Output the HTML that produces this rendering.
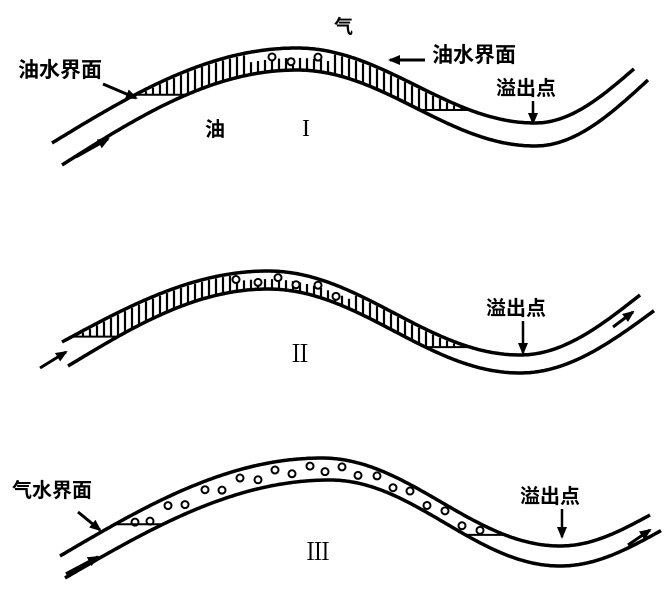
<!DOCTYPE html>
<html><head><meta charset="utf-8"><style>
body{margin:0;background:#fff;}
svg{display:block;}
text{font-family:"Liberation Sans","Noto Sans CJK SC",sans-serif;fill:#000;font-weight:bold;}
.r{font-family:"Liberation Serif","Noto Serif CJK SC",serif;font-weight:normal;}
</style></head><body>
<svg id="d" width="670" height="593" viewBox="0 0 670 593">
<defs><marker id="ah" markerUnits="userSpaceOnUse" markerWidth="12" markerHeight="10" refX="10" refY="5" orient="auto"><path d="M0,0 L12,5 L0,10 Z" fill="#000"/></marker></defs>
<g id="walls"></g>
<text x="334" y="33" font-size="19">气</text>
<text x="18" y="77" font-size="21">油水界面</text>
<line x1="103" y1="84" x2="136" y2="98" stroke="#000" stroke-width="3" marker-end="url(#ah)"/>
<text x="432" y="62" font-size="21">油水界面</text>
<line x1="425" y1="60" x2="390" y2="60" stroke="#000" stroke-width="3" marker-end="url(#ah)"/>
<text x="496" y="95" font-size="20">溢出点</text>
<line x1="533" y1="101" x2="533" y2="123" stroke="#000" stroke-width="2.5" marker-end="url(#ah)"/>
<text x="205" y="136" font-size="20">油</text>
<text x="302" y="136" font-size="24" class="r">I</text>
<text x="486" y="315" font-size="20">溢出点</text>
<line x1="523" y1="321" x2="523" y2="353" stroke="#000" stroke-width="2.5" marker-end="url(#ah)"/>
<text x="288" y="362" font-size="24" class="r">Ⅱ</text>
<text x="12" y="497" font-size="20">气水界面</text>
<line x1="78" y1="512" x2="100" y2="530" stroke="#000" stroke-width="3" marker-end="url(#ah)"/>
<text x="306" y="560" font-size="24" class="r">Ⅲ</text>
<text x="520" y="503" font-size="20">溢出点</text>
<line x1="562" y1="509" x2="562" y2="537" stroke="#000" stroke-width="2.5" marker-end="url(#ah)"/>
<line x1="76" y1="157" x2="108" y2="139" stroke="#000" stroke-width="3" marker-end="url(#ah)"/>
<line x1="40" y1="368" x2="66" y2="352" stroke="#000" stroke-width="3" marker-end="url(#ah)"/>
<line x1="613" y1="327" x2="633" y2="312" stroke="#000" stroke-width="3" marker-end="url(#ah)"/>
<line x1="66" y1="574" x2="98" y2="557" stroke="#000" stroke-width="3.5" marker-end="url(#ah)"/>
<line x1="628" y1="545" x2="650" y2="530" stroke="#000" stroke-width="3" marker-end="url(#ah)"/>
</svg>
<script>
const topKeys1=[[52,143],[297,48],[535,123],[635,68]];
const botKeys1=[[62,165],[297,70],[535,146],[648,80]];
const topKeys2=[[62,342],[268,271],[520,355],[640,295]];
const botKeys2=[[68,366],[268,289],[520,373],[655,310]];
const topKeys3=[[60,556],[322,458],[560,546],[650,515]];
const botKeys3=[[65,578],[330,480],[560,566],[662,530]];
const NS='http://www.w3.org/2000/svg';
const g=document.getElementById('walls');
function f(keys,x){
  if(x<=keys[0][0])return keys[0][1];
  for(let i=0;i<keys.length-1;i++){const a=keys[i],b=keys[i+1];
    if(x<=b[0]){const t=(x-a[0])/(b[0]-a[0]);
      let u;
      if(i==0) u=Math.sin(t*Math.PI/2); else if(i==keys.length-2) u=1-Math.cos(t*Math.PI/2); else u=(1-Math.cos(t*Math.PI))/2;
      return a[1]+(b[1]-a[1])*u;}}
  return keys[keys.length-1][1];
}
function wall(keys,name){
  let d='';for(let x=keys[0][0];x<=keys[keys.length-1][0];x+=2)d+=(d?'L':'M')+x+','+f(keys,x).toFixed(1);
  const p=document.createElementNS(NS,'path');p.setAttribute('d',d);p.setAttribute('fill','none');p.setAttribute('stroke','#000');p.setAttribute('stroke-width','3.5');
  
  
  g.appendChild(p);
}
function iface(bk,x,y,s){
  let xe=x;while(f(bk,xe)>y+1&&Math.abs(xe-x)<90)xe+=s;
  const l=document.createElementNS(NS,'line');l.setAttribute('x1',x);l.setAttribute('x2',xe);l.setAttribute('y1',y);l.setAttribute('y2',y);l.setAttribute('stroke','#000');l.setAttribute('stroke-width','2');
  
  
  g.appendChild(l);
}
function hatch(tk,bk,xL,xR,gas0,gas1,name){
  const yL=f(tk,xL), yR=f(tk,xR);
  for(let x=xL+4;x<xR;x+=7){
    let y1=f(tk,x)+2, y2=Math.min(f(bk,x)-1, x>(xL+xR)/2?yR:yL);
    if(x>gas0&&x<gas1)y1=f(tk,x)+(f(bk,x)-f(tk,x))*0.45;
    if(y2<=y1)continue;
    const l=document.createElementNS(NS,'line');l.setAttribute('x1',x);l.setAttribute('x2',x);l.setAttribute('y1',y1);l.setAttribute('y2',y2);l.setAttribute('stroke','#000');l.setAttribute('stroke-width','2.2');
    
    
    g.appendChild(l);
  }
  iface(bk,xL,yL,1);iface(bk,xR,yR,-1);
}
function bubbles(tk,bk,xs,name){
  xs.forEach((x,i)=>{const t=f(tk,x),b=f(bk,x);const y=t+(b-t)*(i%2?0.62:0.35);
    const c=document.createElementNS(NS,'circle');c.setAttribute('cx',x);c.setAttribute('cy',y);c.setAttribute('r','3.5');c.setAttribute('fill','#fff');c.setAttribute('stroke','#000');c.setAttribute('stroke-width','2');
    
    
    g.appendChild(c);});
}
hatch(topKeys1,botKeys1,135,470,245,330,'water-hatch-1');
hatch(topKeys2,botKeys2,72,470,230,350,'water-hatch-2');
bubbles(topKeys1,botKeys1,[272,291,318],'gas-bubble-1');
bubbles(topKeys2,botKeys2,[236,258,278,296,318,336],'gas-bubble-2');
bubbles(topKeys3,botKeys3,[135,150,168,185,205,222,240,258,275,292,310,325,342,358,377,393,410,427,445,462,480],'gas-bubble-3');
iface(botKeys3,115,f(topKeys3,115),1);
iface(botKeys3,505,f(topKeys3,505),-1);
wall(topKeys1,'pipe-1-top-wall');wall(botKeys1,'pipe-1-bottom-wall');
wall(topKeys2,'pipe-2-top-wall');wall(botKeys2,'pipe-2-bottom-wall');
wall(topKeys3,'pipe-3-top-wall');wall(botKeys3,'pipe-3-bottom-wall');
</script>
</body></html>
